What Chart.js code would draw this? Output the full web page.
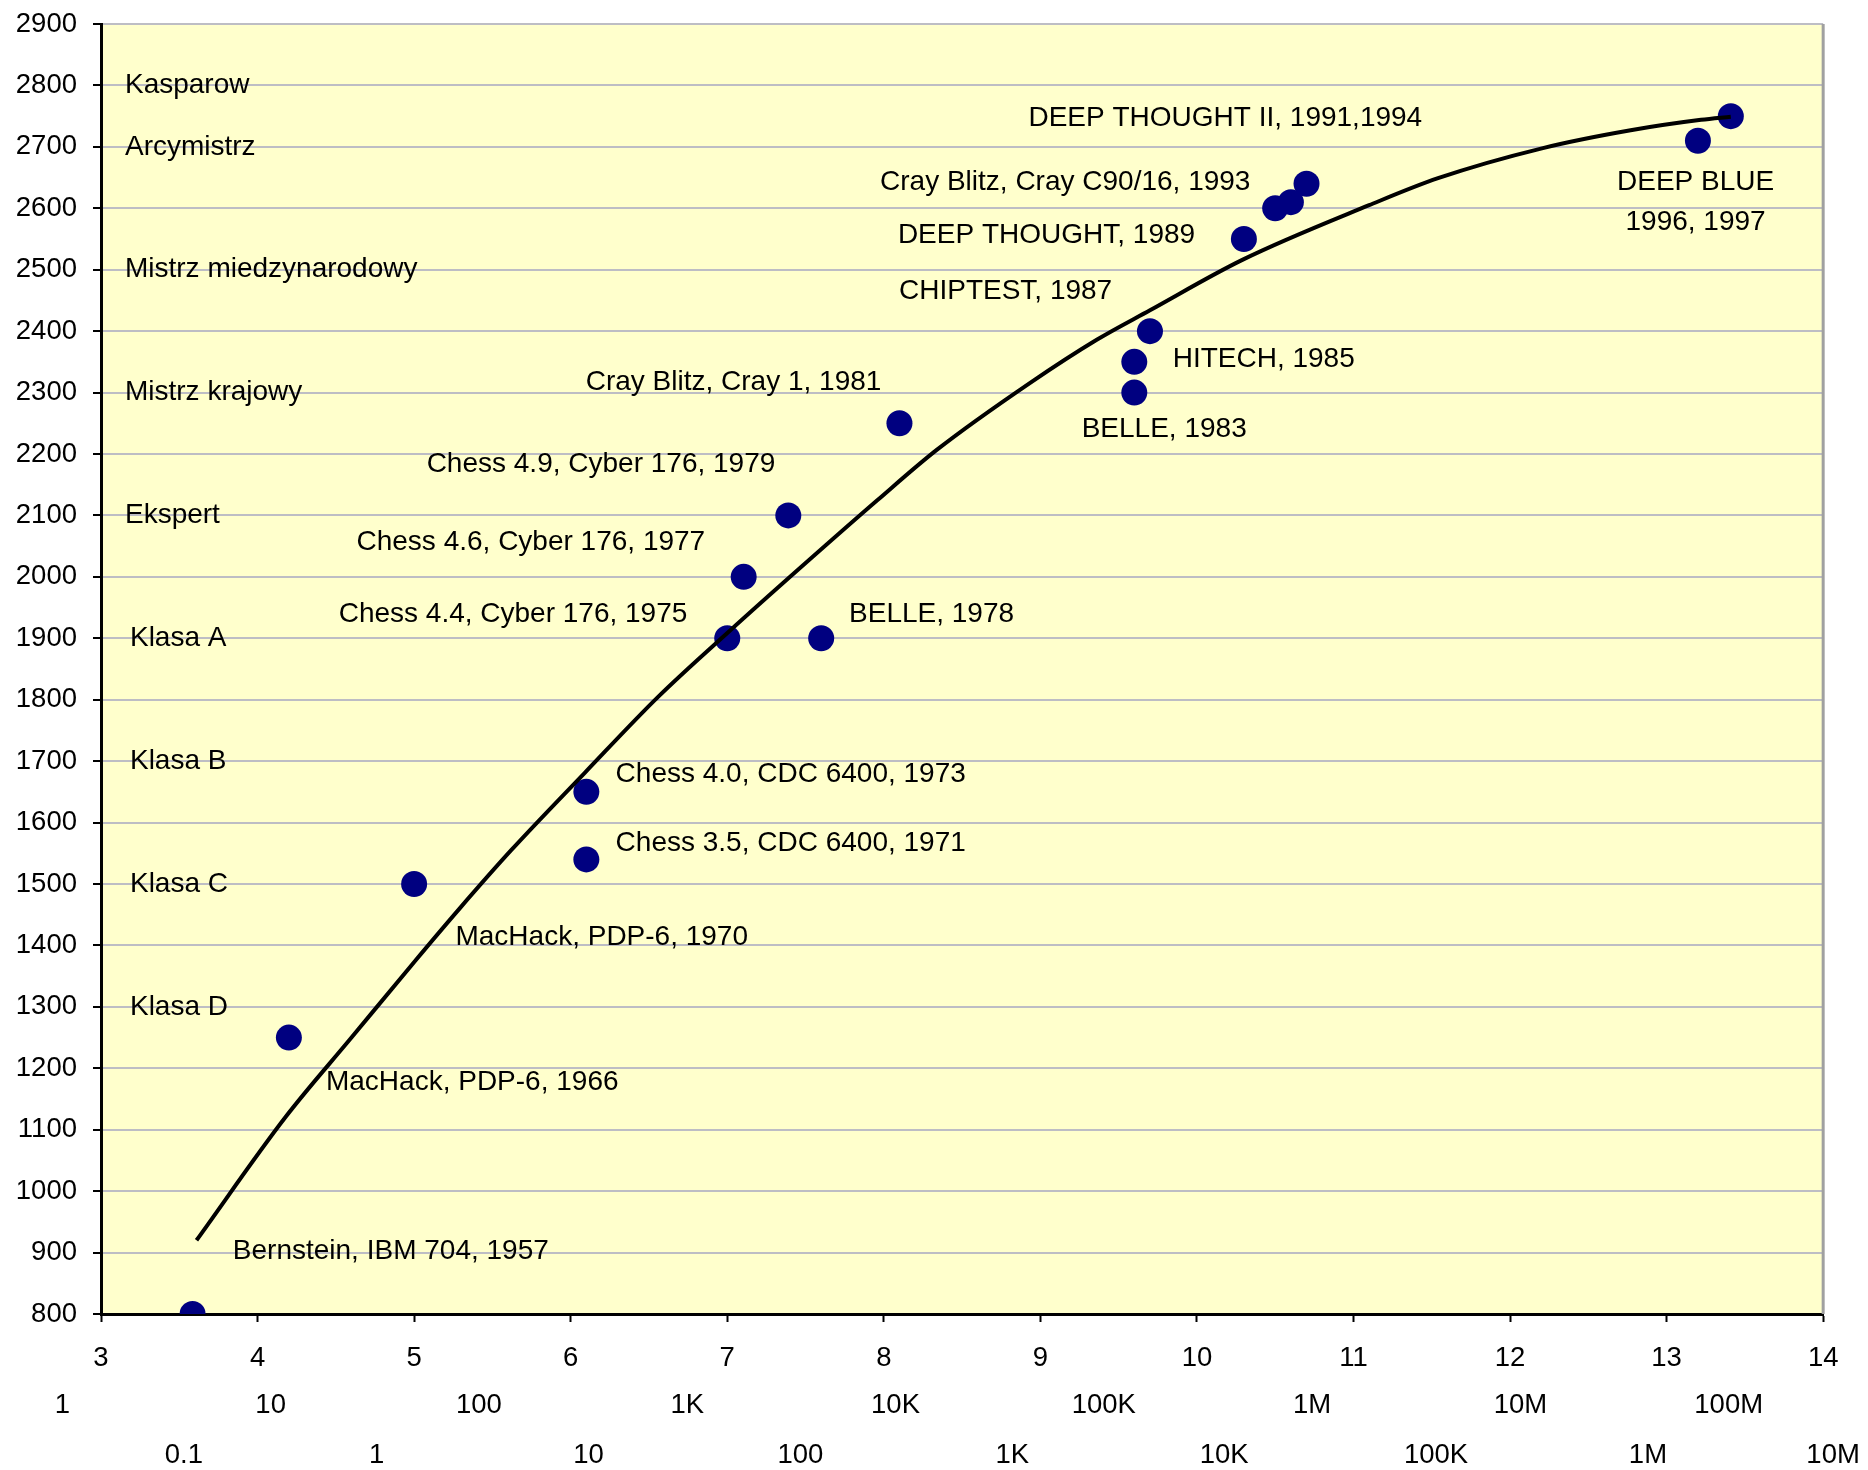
<!DOCTYPE html>
<html>
<head>
<meta charset="utf-8">
<script src="https://cdn.jsdelivr.net/npm/chart.js@4.4.1/dist/chart.umd.min.js"></script>
<style>
  html, body { margin: 0; padding: 0; background: #ffffff; }
  #wrap { width: 1868px; height: 1470px; }
</style>
</head>
<body>
<div id="wrap"><canvas id="c" width="1868" height="1470"></canvas></div>
<script>
// ---------- data ----------
const plyMin = 3, plyMax = 14;
const eloMin = 800, eloMax = 2900;

const nodeTickValues = [1, 10, 100, 1e3, 1e4, 1e5, 1e6, 1e7, 1e8];
const nodeTickLabels = ['1', '10', '100', '1K', '10K', '100K', '1M', '10M', '100M'];
const rateTickValues = [0.1, 1, 10, 100, 1e3, 1e4, 1e5, 1e6, 1e7];
const rateTickLabels = ['0.1', '1', '10', '100', '1K', '10K', '100K', '1M', '10M'];

const programPly = [3.585, 4.20, 5.00, 6.10, 6.10, 7.00, 7.105, 7.39, 7.60, 8.10, 9.60, 9.60, 9.70, 10.30, 10.50, 10.60, 10.70, 13.20, 13.41];
const programElo = [800, 1250, 1500, 1540, 1650, 1900, 2000, 2100, 1900, 2250, 2300, 2350, 2400, 2550, 2600, 2610, 2640, 2710, 2750];

const trendPly = [3.61, 4.18, 4.60, 5.01, 5.29, 5.62, 6.09, 6.56, 7.02, 7.45, 7.96, 8.34, 8.93, 9.36, 9.70, 10.29, 11.10, 11.54, 12.21, 12.77, 13.22, 13.41];
const trendElo = [920, 1121, 1250, 1376, 1460, 1555, 1681, 1805, 1913, 2011, 2125, 2207, 2315, 2386, 2434, 2516, 2605, 2649, 2698, 2727, 2744, 2749];

const ratingTitles = ['Kasparow', 'Arcymistrz', 'Mistrz miedzynarodowy', 'Mistrz krajowy', 'Ekspert', 'Klasa A', 'Klasa B', 'Klasa C', 'Klasa D'];
const ratingLevels = [2800, 2700, 2500, 2300, 2100, 1900, 1700, 1500, 1300];
const ratingTitlePly = [3.153, 3.153, 3.153, 3.153, 3.153, 3.185, 3.185, 3.185, 3.185];

const noteTexts = [
  'DEEP THOUGHT II, 1991,1994', 'Cray Blitz, Cray C90/16, 1993', 'DEEP BLUE', '1996, 1997',
  'DEEP THOUGHT, 1989', 'CHIPTEST, 1987', 'HITECH, 1985', 'BELLE, 1983',
  'Cray Blitz, Cray 1, 1981', 'Chess 4.9, Cyber 176, 1979', 'Chess 4.6, Cyber 176, 1977',
  'Chess 4.4, Cyber 176, 1975', 'BELLE, 1978', 'Chess 4.0, CDC 6400, 1973',
  'Chess 3.5, CDC 6400, 1971', 'MacHack, PDP-6, 1970', 'MacHack, PDP-6, 1966',
  'Bernstein, IBM 704, 1957'
];
const notePly = [8.924, 7.976, 13.185, 13.185, 8.09, 8.097, 9.845, 9.264, 6.096, 5.08, 4.632, 4.518, 7.778, 6.287, 6.287, 5.264, 4.437, 3.842];
const noteElo = [2747, 2643, 2643, 2577, 2556, 2465, 2354, 2240, 2317, 2183, 2057, 1939, 1939, 1678, 1567, 1414, 1178, 902];
const noteAlign = ['left', 'left', 'center', 'center', 'left', 'left', 'left', 'left', 'left', 'left', 'left', 'left', 'left', 'left', 'left', 'left', 'left', 'left'];

// ---------- helpers ----------
const FONT = '"Liberation Sans", Arial, sans-serif';
function labelFor(values, labels) {
  return function (v) {
    for (let i = 0; i < values.length; i++) {
      if (Math.abs(Math.log10(v) - Math.log10(values[i])) < 1e-6) return labels[i];
    }
    return '';
  };
}

const decor = {
  id: 'decor',
  beforeDraw(chart) {
    const { ctx, chartArea: a } = chart;
    ctx.save();
    ctx.fillStyle = '#ffffcc';
    ctx.fillRect(a.left, a.top, a.right - a.left, a.bottom - a.top);
    ctx.restore();
  },
  beforeDatasetsDraw(chart) {
    const { ctx, chartArea: a } = chart;
    ctx.save();
    ctx.strokeStyle = '#a0a0a0';
    ctx.lineWidth = 3;
    ctx.beginPath();
    ctx.moveTo(a.right, a.top);
    ctx.lineTo(a.right, a.bottom);
    ctx.stroke();
    ctx.restore();
  },
  afterDatasetsDraw(chart) {
    const { ctx } = chart;
    const xs = chart.scales.x, ys = chart.scales.y;
    ctx.save();
    ctx.fillStyle = '#000';
    ctx.font = '28px ' + FONT;
    ctx.textBaseline = 'middle';
    ctx.textAlign = 'left';
    for (let i = 0; i < ratingTitles.length; i++) {
      ctx.fillText(ratingTitles[i], xs.getPixelForValue(ratingTitlePly[i]), ys.getPixelForValue(ratingLevels[i]));
    }
    for (let i = 0; i < noteTexts.length; i++) {
      ctx.textAlign = noteAlign[i];
      ctx.fillText(noteTexts[i], xs.getPixelForValue(notePly[i]), ys.getPixelForValue(noteElo[i]));
    }
    ctx.restore();
  }
};

const tickFont = { family: FONT, size: 27.5 };

new Chart(document.getElementById('c'), {
  type: 'scatter',
  data: {
    datasets: [
      {
        type: 'line',
        data: trendPly.map((x, i) => ({ x: x, y: trendElo[i] })),
        borderColor: '#000000',
        borderWidth: 4,
        pointRadius: 0,
        fill: false,
        cubicInterpolationMode: 'monotone',
        order: 0
      },
      {
        type: 'scatter',
        data: programPly.map((x, i) => ({ x: x, y: programElo[i] })),
        backgroundColor: '#000080',
        borderWidth: 0,
        pointRadius: 13,
        pointHoverRadius: 13,
        order: 1
      }
    ]
  },
  options: {
    responsive: false,
    devicePixelRatio: 1,
    animation: false,
    events: [],
    layout: { padding: { left: 0, right: 39, top: 24, bottom: 0 } },
    plugins: { legend: { display: false }, tooltip: { enabled: false } },
    scales: {
      x: {
        type: 'linear',
        position: 'bottom',
        weight: 0,
        min: plyMin,
        max: plyMax,
        ticks: { stepSize: 1, color: '#000', font: tickFont, padding: 20, autoSkip: false, maxRotation: 0 },
        grid: { drawOnChartArea: false, drawTicks: true, tickLength: 8, tickColor: '#000', tickWidth: 2 },
        border: { color: '#000', width: 3 },
        afterFit: s => { s.height = 66; }
      },
      xNodes: {
        type: 'logarithmic',
        position: 'bottom',
        weight: 1,
        min: 1.533,
        max: 2.842e8,
        ticks: { color: '#000', font: tickFont, padding: 9, autoSkip: false, maxRotation: 0, callback: labelFor(nodeTickValues, nodeTickLabels) },
        grid: { display: false, drawTicks: false },
        border: { display: false },
        afterBuildTicks: s => { s.ticks = nodeTickValues.map(v => ({ value: v })); },
        afterFit: s => { s.height = 50; }
      },
      xRate: {
        type: 'logarithmic',
        position: 'bottom',
        weight: 2,
        min: 0.05,
        max: 6.714e6,
        ticks: { color: '#000', font: tickFont, padding: 9, autoSkip: false, maxRotation: 0, align: 'inner', callback: labelFor(rateTickValues, rateTickLabels) },
        grid: { display: false, drawTicks: false },
        border: { display: false },
        afterBuildTicks: s => { s.ticks = rateTickValues.map(v => ({ value: v })); },
        afterFit: s => { s.height = 40; }
      },
      y: {
        type: 'linear',
        position: 'left',
        min: eloMin,
        max: eloMax,
        ticks: { stepSize: 100, color: '#000', font: tickFont, padding: 16, callback: v => String(v) },
        grid: {
          color: ctx => (ctx.tick && ctx.tick.value === eloMin ? 'rgba(0,0,0,0)' : '#bdbdc4'),
          lineWidth: 2,
          drawTicks: true,
          tickLength: 8,
          tickColor: '#000',
          tickWidth: 2
        },
        border: { color: '#000', width: 3 },
        afterFit: s => { s.width = 101; s.paddingTop = 0; }
      }
    }
  },
  plugins: [decor]
});
</script>
</body>
</html>
